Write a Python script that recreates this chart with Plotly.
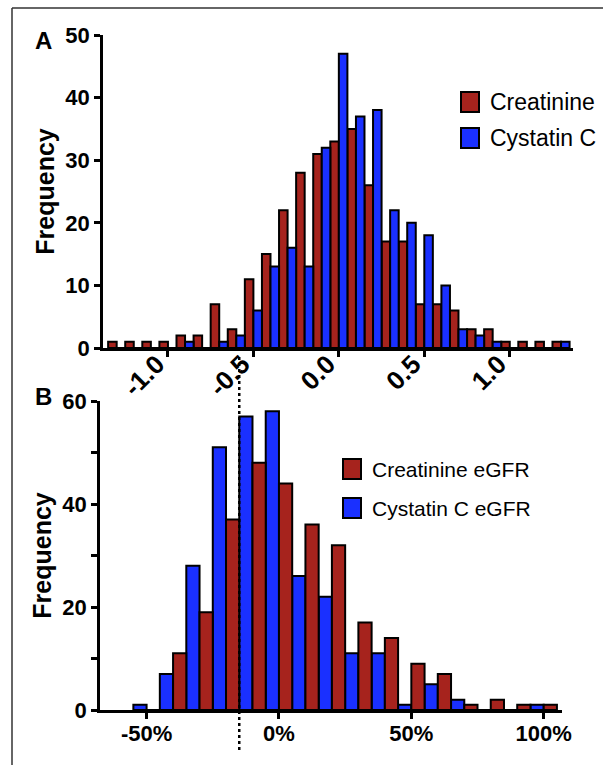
import plotly.graph_objects as go

# ---------------- data ----------------
a_bins = [-1.3, -1.2, -1.1, -1.0, -0.9, -0.8, -0.7, -0.6, -0.5, -0.4, -0.3, -0.2, -0.1, 0.0,
          0.1, 0.2, 0.3, 0.4, 0.5, 0.6, 0.7, 0.8, 0.9, 1.0, 1.1, 1.2, 1.3]
a_creatinine = [1, 1, 1, 1, 2, 2, 7, 3, 11, 15, 22, 28, 31, 33, 35, 26, 17, 17, 7, 7, 6, 3, 3, 1, 1, 1, 1]
a_cystatin = [0, 0, 0, 0, 1, 0, 1, 2, 6, 13, 16, 13, 32, 47, 37, 38, 22, 20, 18, 10, 3, 2, 1, 0, 0, 0, 1]
a_xticks = [-1.0, -0.5, 0.0, 0.5, 1.0]
a_xticklabels = ["-1.0", "-0.5", "0.0", "0.5", "1.0"]
a_yticks = [0, 10, 20, 30, 40, 50]

b_bins = [-50, -40, -30, -20, -10, 0, 10, 20, 30, 40, 50, 60, 70, 80, 90, 100]
b_creatinine = [0, 11, 19, 37, 48, 44, 36, 32, 17, 14, 9, 7, 1, 2, 1, 1]
b_cystatin = [1, 7, 28, 51, 57, 58, 26, 22, 11, 11, 1, 5, 2, 0, 0, 1]
b_xticks = [-50, 0, 50, 100]
b_xticklabels = ["-50%", "0%", "50%", "100%"]
b_yticks = [0, 20, 40, 60]
dotted_x = -15

RED = "#a6231d"
BLUE = "#1a30ff"
W, H = 603, 765
FONT = "Liberation Sans"

def px(x):
    return x / W

def py(y):
    return 1 - y / H

fig = go.Figure()

line = dict(color="black", width=2)
fig.add_trace(go.Bar(x=a_bins, y=a_creatinine, width=0.05, offset=-0.05, marker=dict(color=RED, line=line),
                     name="Creatinine", xaxis="x", yaxis="y", showlegend=False))
fig.add_trace(go.Bar(x=a_bins, y=a_cystatin, width=0.05, offset=0.0, marker=dict(color=BLUE, line=line),
                     name="Cystatin C", xaxis="x", yaxis="y", showlegend=False))
fig.add_trace(go.Bar(x=b_bins, y=b_cystatin, width=5, offset=-5, marker=dict(color=BLUE, line=line),
                     name="Cystatin C eGFR", xaxis="x2", yaxis="y2", showlegend=False))
fig.add_trace(go.Bar(x=b_bins, y=b_creatinine, width=5, offset=0, marker=dict(color=RED, line=line),
                     name="Creatinine eGFR", xaxis="x2", yaxis="y2", showlegend=False))

tickfont = dict(family=FONT, size=22, color="black", weight="bold")
titlefont = dict(family=FONT, size=25, color="black", weight="bold")
axcommon = dict(showline=True, linecolor="black", linewidth=2.5, ticks="outside", ticklen=6,
                tickwidth=2.5, tickcolor="black", showgrid=False, zeroline=False,
                automargin=False)

fig.update_layout(
    template="none",
    width=W, height=H, margin=dict(l=0, r=0, t=0, b=0, autoexpand=False),
    paper_bgcolor="white", plot_bgcolor="white", barmode="overlay", showlegend=False,
    xaxis=dict(domain=[px(103), px(573)], range=[-1.38, 1.37], anchor="y",
               tickvals=a_xticks, ticktext=a_xticklabels, tickangle=-45,
               tickfont=dict(family=FONT, size=26, color="black", weight="bold"),
               ticklabelshift=-11, ticklabelstandoff=-18, **axcommon),
    yaxis=dict(domain=[py(348), py(35)], range=[0, 50], anchor="x", tickvals=a_yticks, tickfont=tickfont,
               title=dict(text="Frequency", font=titlefont, standoff=4), **axcommon),
    xaxis2=dict(domain=[px(100), px(561.7)], range=[-67.6, 106.8], anchor="y2",
                tickvals=b_xticks, ticktext=b_xticklabels, tickfont=tickfont,
                ticklabelstandoff=-4, **axcommon),
    yaxis2=dict(domain=[py(710), py(401)], range=[0, 60], anchor="x2", tickvals=b_yticks, tickfont=tickfont,
                minor=dict(dtick=10, ticklen=6, tickwidth=2.5, tickcolor="black", ticks="outside"),
                title=dict(text="Frequency", font=titlefont, standoff=4), **axcommon),
)

shapes = []
# frame
shapes.append(dict(type="line", xref="paper", yref="paper", x0=px(12), x1=px(12), y0=py(8), y1=0,
                   line=dict(color="#333", width=1.5)))
shapes.append(dict(type="line", xref="paper", yref="paper", x0=px(12), x1=1, y0=py(8), y1=py(8),
                   line=dict(color="#333", width=1.5)))
# dotted reference line
shapes.append(dict(type="line", xref="x2", yref="paper", x0=dotted_x, x1=dotted_x, y0=py(750), y1=py(357),
                   line=dict(color="black", width=2.5, dash="dot"), layer="above"))

annotations = [
    dict(text="A", x=px(43), y=py(40), xref="paper", yref="paper", showarrow=False,
         xanchor="center", yanchor="middle",
         font=dict(family=FONT, size=24, color="black", weight="bold")),
    dict(text="B", x=px(43), y=py(396), xref="paper", yref="paper", showarrow=False,
         xanchor="center", yanchor="middle",
         font=dict(family=FONT, size=24, color="black", weight="bold")),
]

def legend_entry(x, yc, color, label, size):
    shapes.append(dict(type="rect", xref="paper", yref="paper", x0=px(x), x1=px(x + 18),
                       y0=py(yc + 10), y1=py(yc - 10), fillcolor=color, line=dict(color="black", width=2)))
    annotations.append(dict(text=label, x=px(x + 27), y=py(yc), xref="paper", yref="paper",
                            xanchor="left", yanchor="middle", showarrow=False,
                            font=dict(family=FONT, size=size, color="black")))

legend_entry(461, 102, RED, "Creatinine", 23)
legend_entry(461, 138, BLUE, "Cystatin C", 23)
legend_entry(343, 469, RED, "Creatinine eGFR", 21)
legend_entry(343, 508, BLUE, "Cystatin C eGFR", 21)

fig.update_layout(shapes=shapes, annotations=annotations)
fig.write_html("out.html")
